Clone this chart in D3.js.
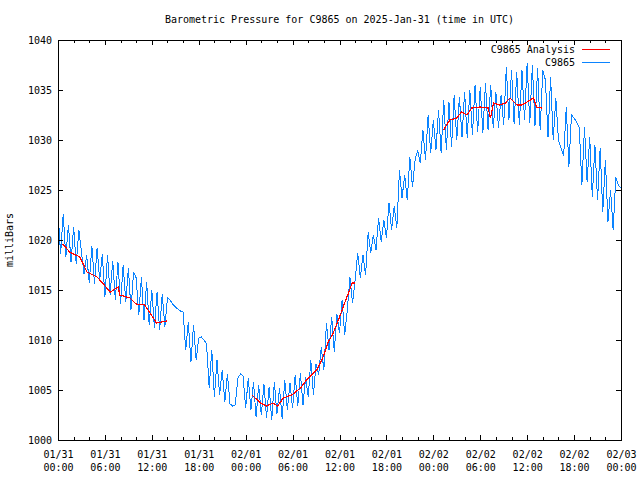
<!DOCTYPE html>
<html><head><meta charset="utf-8">
<script src="https://cdn.jsdelivr.net/npm/d3@7"></script>
<style>
body{margin:0;background:#fff;}
svg{display:block;}
text{font-family:"DejaVu Sans Mono",monospace;font-size:10px;fill:#000;}
</style></head>
<body><svg id="c" width="640" height="480"></svg>
<script>
const title = "Barometric Pressure for C9865 on 2025-Jan-31 (time in UTC)";
const yLabel = "milliBars";
const seriesNames = ["C9865 Analysis", "C9865"];
const yTicks = [1000, 1005, 1010, 1015, 1020, 1025, 1030, 1035, 1040];
const startTime = Date.UTC(2025, 0, 31, 0, 0);
const endTime = Date.UTC(2025, 1, 3, 0, 0);
const obsStepMinutes = 20;
// C9865 observations, every 20 minutes from 01/31 00:00
const pressure = [
1022.8,1018.6,1022.6, 1018.3,1021.5,1017.8, 1021.3,1017.6,1021.0, 1018.8,1016.6,1018.5,
1015.7,1019.4,1015.6, 1019.2,1016.0,1018.6, 1014.3,1018.5,1014.5, 1017.9,1014.0,1017.8,
1013.6,1017.5,1013.8, 1017.2,1013.0,1016.8, 1016.2,1012.5,1016.3, 1012.0,1015.8,1011.5,
1015.0,1011.2,1014.8, 1011.0,1014.6,1011.3, 1014.2,1014.0,1013.6, 1013.3,1013.1,1012.9,
1012.8,1009.0,1011.8, 1007.8,1011.5,1008.0, 1010.2,1010.3,1010.0, 1009.6,1005.2,1009.0,
1004.3,1008.0,1004.5, 1007.0,1003.8,1006.6, 1003.6,1003.4,1003.5, 1006.2,1006.6,1006.4,
1003.2,1006.2,1003.0, 1005.8,1002.3,1005.5, 1002.5,1005.6,1002.2, 1005.3,1002.0,1005.8,
1002.6,1005.2,1002.1, 1006.0,1003.0,1005.7, 1003.2,1006.5,1003.4, 1006.7,1003.5,1006.3,
1004.3,1008.0,1004.5, 1007.6,1006.5,1009.3, 1007.0,1011.7,1009.0, 1012.3,1008.8,1012.6,
1010.7,1014.0,1010.5, 1013.0,1016.3,1013.7, 1016.0,1018.7,1016.2, 1018.5,1016.5,1020.8,
1018.7,1020.5,1019.0, 1022.2,1019.8,1022.0, 1020.2,1023.7,1021.0, 1023.4,1021.2,1027.0,
1024.2,1026.5,1024.0, 1028.3,1025.3,1028.0, 1029.0,1027.7,1031.0, 1028.0,1032.5,1028.7,
1032.0,1029.0,1033.0, 1028.7,1034.0,1029.0, 1033.8,1029.3,1034.5, 1030.0,1034.3,1030.3,
1034.8,1030.2,1035.0, 1030.5,1035.5,1030.8, 1035.3,1030.7,1035.7, 1031.0,1035.5,1031.2,
1034.8,1031.2,1034.5, 1031.5,1037.3,1032.0, 1037.0,1031.6,1036.8, 1031.5,1037.0,1032.0,
1037.7,1031.7,1037.5, 1031.4,1037.2,1031.0, 1037.0,1036.0,1030.3, 1036.3,1030.0,1034.2,
1030.0,1029.2,1028.4, 1033.3,1027.3,1032.5, 1032.2,1031.8,1031.2, 1025.5,1031.3,1025.8,
1030.3,1024.3,1029.5, 1024.0,1029.2,1022.8, 1028.0,1021.8,1025.0, 1021.0,1026.3,1025.5,
1025.2
];
// Analysis: hours since 01/31 00:00 and values (null = gap)
const analysisHours = [
0.6,1.5,2.8,3.7,5.0,6.7,7.7,7.9,9.2,10.0,11.1,12.6,13.9, null,
24.8,25.9,26.7,27.5,28.1,28.8,29.9,31.0,32.0,33.1,33.9,34.5,35.2,36.1,36.7,37.3,37.6,38.0, null,
49.3,50.1,51.0,51.6,52.3,52.9,54.0,55.0,55.3,55.7,56.5,57.2,57.8,58.7,59.3,60.0,60.8,61.2,61.9
];
const analysisValues = [
1019.6,1018.8,1018.3,1016.8,1016.3,1014.8,1015.3,1014.5,1014.2,1013.6,1013.5,1011.7,1011.9, null,
1004.5,1003.7,1003.4,1003.7,1003.4,1004.2,1004.5,1005.2,1006.2,1007.0,1008.3,1009.7,1010.7,1012.5,1013.8,1015.0,1015.7,1015.7, null,
1031.0,1032.0,1032.2,1032.8,1032.5,1033.2,1033.3,1033.2,1032.2,1033.7,1033.5,1033.7,1034.2,1033.5,1033.5,1033.8,1034.2,1033.3,1033.2
];

const blue = "#0b84ff", red = "#ff0000";
const svg = d3.select("#c");
const L = 58, R = 621, T = 40, B = 440;
const x = d3.scaleUtc().domain([new Date(startTime), new Date(endTime)]).range([L, R]);
const y = d3.scaleLinear().domain([1000, 1040]).range([B, T]);
const H = 3600e3;
const majorX = d3.range(0, 73, 6).map(h => new Date(startTime + h * H));
const minorX = d3.range(0, 73, 2).filter(h => h % 6 !== 0).map(h => new Date(startTime + h * H));

function clean(g){ g.select(".domain").remove(); g.selectAll("line").attr("stroke","#000").attr("shape-rendering","crispEdges"); }

// data (drawn under the frame)
const obs = pressure.map((v,i) => ({t:new Date(startTime + i*obsStepMinutes*60e3), v}));
const ana = analysisHours.map((h,i) => ({t: h==null?null:new Date(startTime + h*H), v: analysisValues[i]}));
const defined = d => d.t != null && d.v != null;
const line = d3.line().defined(defined).x(d => x(d.t)).y(d => y(d.v));
svg.append("path").datum(obs).attr("d", line).attr("fill","none").attr("stroke",blue)
  .attr("stroke-width",1).attr("shape-rendering","crispEdges");
svg.append("path").datum(ana).attr("d", line).attr("fill","none").attr("stroke",red)
  .attr("stroke-width",1.2).attr("shape-rendering","crispEdges");

// bottom axis ticks (inward)
svg.append("g").attr("transform",`translate(0,${B})`)
  .call(d3.axisBottom(x).tickValues(majorX).tickSizeInner(-5).tickSizeOuter(0).tickPadding(18)
    .tickFormat(d3.utcFormat("%m/%d")))
  .call(clean)
  .call(g => g.selectAll("text").attr("font-family",null).attr("font-size",null).attr("dy",null)
    .each(function(d){
      const t = d3.select(this); t.text(null);
      t.append("tspan").attr("x",0).attr("dy","0").text(d3.utcFormat("%m/%d")(d));
      t.append("tspan").attr("x",0).attr("dy","13").text(d3.utcFormat("%H:%M")(d));
    }));
svg.append("g").attr("transform",`translate(0,${B})`)
  .call(d3.axisBottom(x).tickValues(minorX).tickSizeInner(-3).tickSizeOuter(0).tickFormat(""))
  .call(clean);
// top mirrored ticks
svg.append("g").attr("transform",`translate(0,${T})`)
  .call(d3.axisTop(x).tickValues(majorX).tickSizeInner(-5).tickSizeOuter(0).tickFormat(""))
  .call(clean);
svg.append("g").attr("transform",`translate(0,${T})`)
  .call(d3.axisTop(x).tickValues(minorX).tickSizeInner(-3).tickSizeOuter(0).tickFormat(""))
  .call(clean);
// left axis
svg.append("g").attr("transform",`translate(${L},0)`)
  .call(d3.axisLeft(y).tickValues(yTicks).tickSizeInner(-5).tickSizeOuter(0).tickPadding(6).tickFormat(d3.format("d")))
  .call(clean)
  .call(g => g.selectAll("text").attr("font-family",null).attr("font-size",null));
svg.append("g").attr("transform",`translate(${R},0)`)
  .call(d3.axisRight(y).tickValues(yTicks).tickSizeInner(-5).tickSizeOuter(0).tickFormat(""))
  .call(clean);

// frame
svg.append("rect").attr("x",L+0.5).attr("y",T+0.5).attr("width",R-L).attr("height",B-T)
  .attr("fill","none").attr("stroke","#000").attr("shape-rendering","crispEdges");

// title
svg.append("text").attr("x",(L+R)/2).attr("y",23).attr("text-anchor","middle").text(title);
// y label
svg.append("text").attr("transform","translate(13,240) rotate(-90)").attr("text-anchor","middle").text(yLabel);
// legend
const leg = [{name:seriesNames[0],c:red,yy:49},{name:seriesNames[1],c:blue,yy:62}];
leg.forEach(d => {
  svg.append("text").attr("x",575).attr("y",d.yy+4).attr("text-anchor","end").text(d.name);
  svg.append("line").attr("x1",582).attr("x2",610).attr("y1",d.yy+0.5).attr("y2",d.yy+0.5)
    .attr("stroke",d.c).attr("stroke-width",1).attr("shape-rendering","crispEdges");
});
</script></body></html>
